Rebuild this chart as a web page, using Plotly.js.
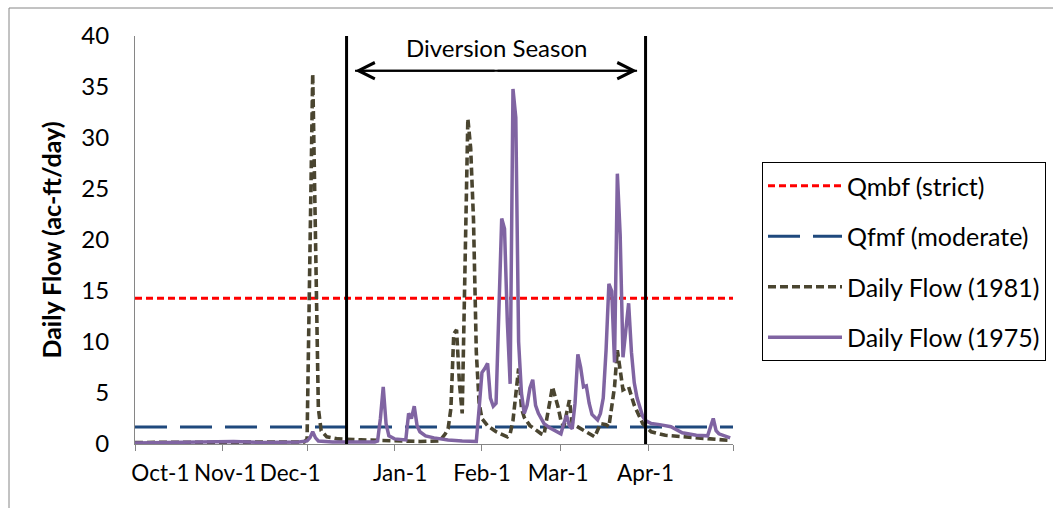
<!DOCTYPE html>
<html>
<head>
<meta charset="utf-8">
<script src="https://cdn.plot.ly/plotly-3.0.1.min.js"></script>
<style>html,body{margin:0;padding:0;background:#fff;}#chart{width:1053px;height:508px;}</style>
</head>
<body>
<div id="chart"></div>
<script>
// ---- data ----
const seriesNames = ['Qmbf (strict)', 'Qfmf (moderate)', 'Daily Flow (1981)', 'Daily Flow (1975)'];
const axisStart = '2000-10-01';
const axisEnd = '2001-05-01';
const qmbf = 14.3;
const qfmf = 1.67;
const seasonBounds = ['2000-12-15', '2001-03-31'];
const seasonArrow = ['2000-12-18', '2001-03-28'];
const seasonArrowMid = '2001-02-06';
const seasonLabel = 'Diversion Season';
const monthTicks = ['2000-10-01','2000-11-01','2000-12-01','2001-01-01','2001-02-01','2001-03-01','2001-04-01','2001-05-01'];
const labelPos = ['2000-10-10','2000-11-02','2000-11-25','2001-01-03','2001-02-01','2001-02-28','2001-03-31'];
const labelText = ['Oct-1','Nov-1','Dec-1','Jan-1','Feb-1','Mar-1','Apr-1'];
const yTicks = [0,5,10,15,20,25,30,35,40];

const dates1981 = ['2000-10-01','2000-10-20','2000-11-10','2000-11-30','2000-12-01','2000-12-03','2000-12-04','2000-12-05','2000-12-06','2000-12-08','2000-12-12','2000-12-20','2001-01-10','2001-01-17','2001-01-19','2001-01-20','2001-01-21','2001-01-22','2001-01-23','2001-01-24','2001-01-25','2001-01-26','2001-01-27','2001-01-28','2001-01-29','2001-01-30','2001-01-31','2001-02-01','2001-02-03','2001-02-06','2001-02-10','2001-02-11','2001-02-12','2001-02-14','2001-02-15','2001-02-16','2001-02-18','2001-02-22','2001-02-23','2001-02-24','2001-02-26','2001-02-28','2001-03-01','2001-03-02','2001-03-04','2001-03-05','2001-03-09','2001-03-13','2001-03-15','2001-03-17','2001-03-18','2001-03-19','2001-03-20','2001-03-21','2001-03-23','2001-03-25','2001-03-27','2001-03-30','2001-04-02','2001-04-07','2001-04-15','2001-04-22','2001-04-30'];
const flow1981 = [0.15,0.15,0.2,0.2,0.5,36.3,20,3.5,1.3,0.7,0.5,0.4,0.25,0.3,1.0,1.5,3.5,10.8,11.2,6.0,3.0,17,31.9,29,22,9,4.0,2.5,1.8,1.2,0.7,1.0,2.3,7.4,3.5,2.6,1.8,1.0,0.9,2.5,5.6,3.6,2.3,1.7,4.3,2.0,1.4,0.7,2.0,1.9,1.7,3.5,5.6,9.2,5.3,5.6,3.8,2.0,1.2,0.85,0.7,0.55,0.35];

const dates1975 = ['2000-10-01','2000-10-25','2000-11-05','2000-11-15','2000-11-28','2000-12-01','2000-12-02','2000-12-03','2000-12-04','2000-12-05','2000-12-10','2000-12-25','2000-12-26','2000-12-27','2000-12-28','2000-12-29','2000-12-30','2001-01-01','2001-01-05','2001-01-06','2001-01-07','2001-01-08','2001-01-09','2001-01-10','2001-01-12','2001-01-15','2001-01-20','2001-01-25','2001-01-30','2001-01-31','2001-02-01','2001-02-02','2001-02-03','2001-02-04','2001-02-05','2001-02-06','2001-02-07','2001-02-08','2001-02-09','2001-02-10','2001-02-11','2001-02-12','2001-02-13','2001-02-14','2001-02-15','2001-02-16','2001-02-17','2001-02-18','2001-02-19','2001-02-20','2001-02-21','2001-02-23','2001-02-25','2001-02-27','2001-03-01','2001-03-02','2001-03-03','2001-03-04','2001-03-05','2001-03-06','2001-03-07','2001-03-08','2001-03-09','2001-03-10','2001-03-11','2001-03-12','2001-03-13','2001-03-14','2001-03-15','2001-03-16','2001-03-17','2001-03-18','2001-03-19','2001-03-20','2001-03-21','2001-03-22','2001-03-23','2001-03-24','2001-03-25','2001-03-26','2001-03-27','2001-03-28','2001-03-29','2001-03-30','2001-03-31','2001-04-02','2001-04-05','2001-04-09','2001-04-13','2001-04-18','2001-04-22','2001-04-24','2001-04-25','2001-04-26','2001-04-30'];
const flow1975 = [0.1,0.15,0.25,0.15,0.2,0.3,0.6,1.2,0.6,0.3,0.2,0.2,0.3,2.5,5.6,2.0,0.8,0.5,0.4,3.0,2.5,3.7,1.8,1.2,0.8,0.6,0.4,0.3,0.25,3.5,7.0,7.4,7.9,4.5,3.7,4.0,14,22.1,21.1,12,5.9,34.8,32.0,10,5.0,3.0,3.8,5.5,6.3,3.8,3.0,2.0,1.6,1.3,1.0,2.0,2.8,1.8,1.5,4.0,8.8,7.5,5.6,5.7,4.0,2.9,2.6,2.35,3.0,4.5,9.2,15.7,15.0,8.0,26.5,20.5,8.5,11,13.8,9,6.0,4.5,3.5,2.7,2.3,2.0,1.9,1.7,1.1,0.85,0.8,2.5,1.3,1.0,0.6];

// ---- chart ----
const FONT = 'Lato, "Open Sans", sans-serif';
const AXC = '#868686';

const traces = [
  {x:[axisStart, axisEnd], y:[qmbf, qmbf], name:seriesNames[0], legendgroup:'a', mode:'lines',
   line:{color:'#FF0000', width:3, dash:'7px,4px'}},
  {x:[axisStart, axisEnd], y:[qfmf, qfmf], name:seriesNames[1], legendgroup:'b', mode:'lines',
   line:{color:'#1F497D', width:3, dash:'32px,13px'}},
  {x:dates1981, y:flow1981, name:seriesNames[2], legendgroup:'c', mode:'lines',
   line:{color:'#4A4530', width:3.6, dash:'8px,4px'}},
  {x:dates1975, y:flow1975, name:seriesNames[3], legendgroup:'d', mode:'lines',
   line:{color:'#8064A2', width:3.5}},
  {x:[], y:[], xaxis:'x2', showlegend:false, hoverinfo:'skip'}
];

const shapes = seasonBounds.map(d => ({type:'line', xref:'x', yref:'y', x0:d, x1:d, y0:0, y1:40,
  line:{color:'#000', width:3}}));
shapes.push({type:'line', xref:'x', yref:'y', x0:seasonArrow[0], x1:seasonArrow[1], y0:36.6, y1:36.6,
  line:{color:'#000', width:2}});
shapes.push({type:'rect', xref:'paper', yref:'paper', x0:-0.2107, x1:1.56, y0:-0.2, y1:1.0686,
  line:{color:AXC, width:1}, fillcolor:'rgba(0,0,0,0)', layer:'below'});

const annotations = [
  {x:seasonArrow[0], y:36.6, ax:seasonArrowMid, ay:36.6, axref:'x', ayref:'y', xref:'x', yref:'y',
   text:'', showarrow:true, arrowhead:5, arrowsize:1.6, arrowwidth:2, arrowcolor:'#000', standoff:0, startstandoff:0},
  {x:seasonArrow[1], y:36.6, ax:seasonArrowMid, ay:36.6, axref:'x', ayref:'y', xref:'x', yref:'y',
   text:'', showarrow:true, arrowhead:5, arrowsize:1.6, arrowwidth:2, arrowcolor:'#000', standoff:0, startstandoff:0},
  {x:seasonArrowMid, y:38.9, xref:'x', yref:'y', text:seasonLabel, showarrow:false,
   font:{family:FONT, size:24, color:'#000'}, xanchor:'center', yanchor:'middle'}
];

const layout = {
  width:1053, height:508,
  margin:{l:135, r:320, t:36, b:64, pad:0, autoexpand:false},
  paper_bgcolor:'#fff', plot_bgcolor:'#fff',
  font:{family:FONT, size:24, color:'#000'},
  showlegend:true,
  legend:{x:1.0485, y:0.691, xanchor:'left', yanchor:'top', bgcolor:'#fff', bordercolor:'#000', borderwidth:1,
    font:{family:FONT, size:25, color:'#000'}, traceorder:'grouped', tracegroupgap:15, itemwidth:74},
  xaxis:{type:'date', range:[axisStart, axisEnd], tickvals:monthTicks, showticklabels:false,
    ticks:'outside', ticklen:6, tickcolor:AXC, tickwidth:1, showline:true, linecolor:AXC, linewidth:1,
    showgrid:false, zeroline:false, fixedrange:true, automargin:false},
  xaxis2:{type:'date', range:[axisStart, axisEnd], overlaying:'x', anchor:'y', side:'bottom',
    tickvals:labelPos, ticktext:labelText, tickangle:0, ticks:'', showline:false, showgrid:false, zeroline:false,
    automargin:false, ticklabelstandoff:13, tickfont:{family:FONT, size:22.5, color:'#000'}},
  yaxis:{range:[0,40], tickvals:yTicks, ticks:'', showline:true, linecolor:AXC, linewidth:1,
    showgrid:false, zeroline:false, automargin:false, ticklabelstandoff:20, tickfont:{family:FONT, size:24, color:'#000'},
    title:{text:'<b>Daily Flow (ac-ft/day)</b>', font:{family:FONT, size:25, color:'#000'}, standoff:12}},
  shapes:shapes,
  annotations:annotations
};

Plotly.newPlot('chart', traces, layout, {staticPlot:true, displayModeBar:false});
</script>
</body>
</html>
